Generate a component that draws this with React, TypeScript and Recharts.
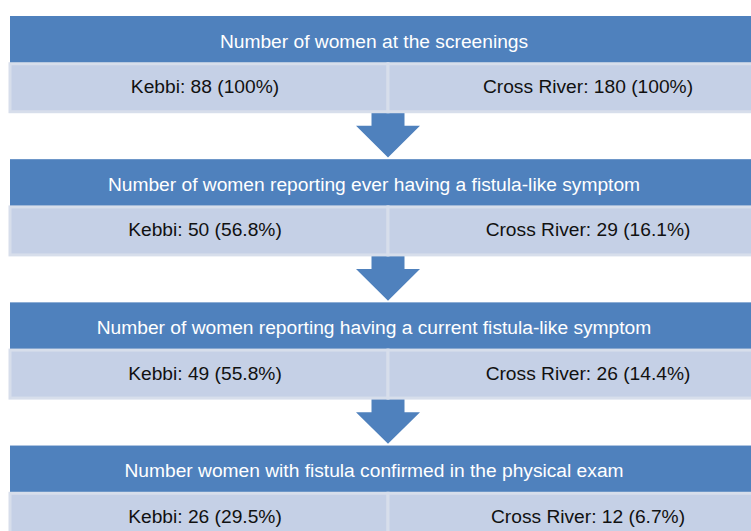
import React from 'react';
import { BarChart, Bar, XAxis, YAxis } from 'recharts';

const stageTitles = [
  'Number of women at the screenings',
  'Number of women reporting ever having a fistula-like symptom',
  'Number of women reporting having a current fistula-like symptom',
  'Number women with fistula confirmed in the physical exam',
];
const siteNames = ['Kebbi', 'Cross River'];
const kebbiCounts = [88, 50, 49, 26];
const kebbiPct = ['100%', '56.8%', '55.8%', '29.5%'];
const crossCounts = [180, 29, 26, 12];
const crossPct = ['100%', '16.1%', '14.4%', '6.7%'];

const HEADER = '#4F81BD';
const DETAIL = '#C5D0E6';
const DETAIL_EDGE = '#D7DEEB';
const FONT = '"Liberation Sans", Arial, Helvetica, sans-serif';
const FS = 19.2;

type Row = {
  row: string;
  header: number;
  kebbi: number;
  cross: number;
  arrow: number;
  title?: string;
  kebbiLabel?: string;
  crossLabel?: string;
};

const rows: Row[] = stageTitles.flatMap((t, i) => {
  const r: Row[] = [
    { row: `h${i}`, header: 2, kebbi: 0, cross: 0, arrow: 0, title: t },
    {
      row: `d${i}`,
      header: 0,
      kebbi: 1,
      cross: 1,
      arrow: 0,
      kebbiLabel: `${siteNames[0]}: ${kebbiCounts[i]} (${kebbiPct[i]})`,
      crossLabel: `${siteNames[1]}: ${crossCounts[i]} (${crossPct[i]})`,
    },
  ];
  if (i < stageTitles.length - 1) {
    r.push({ row: `a${i}`, header: 0, kebbi: 0, cross: 0, arrow: 2 });
  }
  return r;
});

const HeaderShape = (p: any) => {
  const { x, y, width, height, payload } = p;
  if (!width || width <= 0) return null;
  return (
    <g>
      <rect x={x} y={y} width={width} height={height} fill={HEADER} />
      <text
        x={x + width / 2 - 14}
        y={y + height / 2 + 1}
        textAnchor="middle"
        dominantBaseline="central"
        fill="#ffffff"
        fontSize={FS}
        fontFamily={FONT}
      >
        {payload.title}
      </text>
    </g>
  );
};

const makeDetailShape = (key: 'kebbiLabel' | 'crossLabel', dx: number) => (p: any) => {
  const { x, y, width, height, payload } = p;
  if (!width || width <= 0) return null;
  return (
    <g>
      <rect
        x={x}
        y={y}
        width={width}
        height={height}
        fill={DETAIL}
        stroke={DETAIL_EDGE}
        strokeWidth={3}
      />
      <text
        x={x + width / 2 + dx}
        y={y + height / 2 - 1}
        textAnchor="middle"
        dominantBaseline="central"
        fill="#111111"
        fontSize={FS}
        fontFamily={FONT}
      >
        {payload[key]}
      </text>
    </g>
  );
};

const KebbiShape = makeDetailShape('kebbiLabel', 6);
const CrossShape = makeDetailShape('crossLabel', 11);

const ArrowShape = (p: any) => {
  const { x, y, width, height } = p;
  if (!width || width <= 0) return null;
  const cx = x + width / 2;
  const sw = 16.5;
  const hw = 32;
  const sy = y + height * 0.3;
  const ty = y + height - 2;
  const d = `M${cx - sw},${y - 2} L${cx + sw},${y - 2} L${cx + sw},${sy} L${cx + hw},${sy} L${cx},${ty} L${cx - hw},${sy} L${cx - sw},${sy} Z`;
  return <path d={d} fill={HEADER} />;
};

export default function App() {
  return (
    <div
      style={{
        position: 'fixed',
        left: 0,
        top: 0,
        width: 751,
        height: 531,
        overflow: 'hidden',
        background: '#ffffff',
      }}
    >
      <BarChart
        width={800}
        height={541}
        layout="vertical"
        data={rows}
        margin={{ top: 16, right: 34, bottom: 0, left: 10 }}
        barCategoryGap={0}
      >
        <XAxis type="number" domain={[0, 2]} hide />
        <YAxis type="category" dataKey="row" hide />
        <Bar dataKey="arrow" stackId="s" shape={ArrowShape} isAnimationActive={false} />
        <Bar dataKey="header" stackId="s" shape={HeaderShape} isAnimationActive={false} />
        <Bar dataKey="kebbi" stackId="s" shape={KebbiShape} isAnimationActive={false} />
        <Bar dataKey="cross" stackId="s" shape={CrossShape} isAnimationActive={false} />
      </BarChart>
    </div>
  );
}
